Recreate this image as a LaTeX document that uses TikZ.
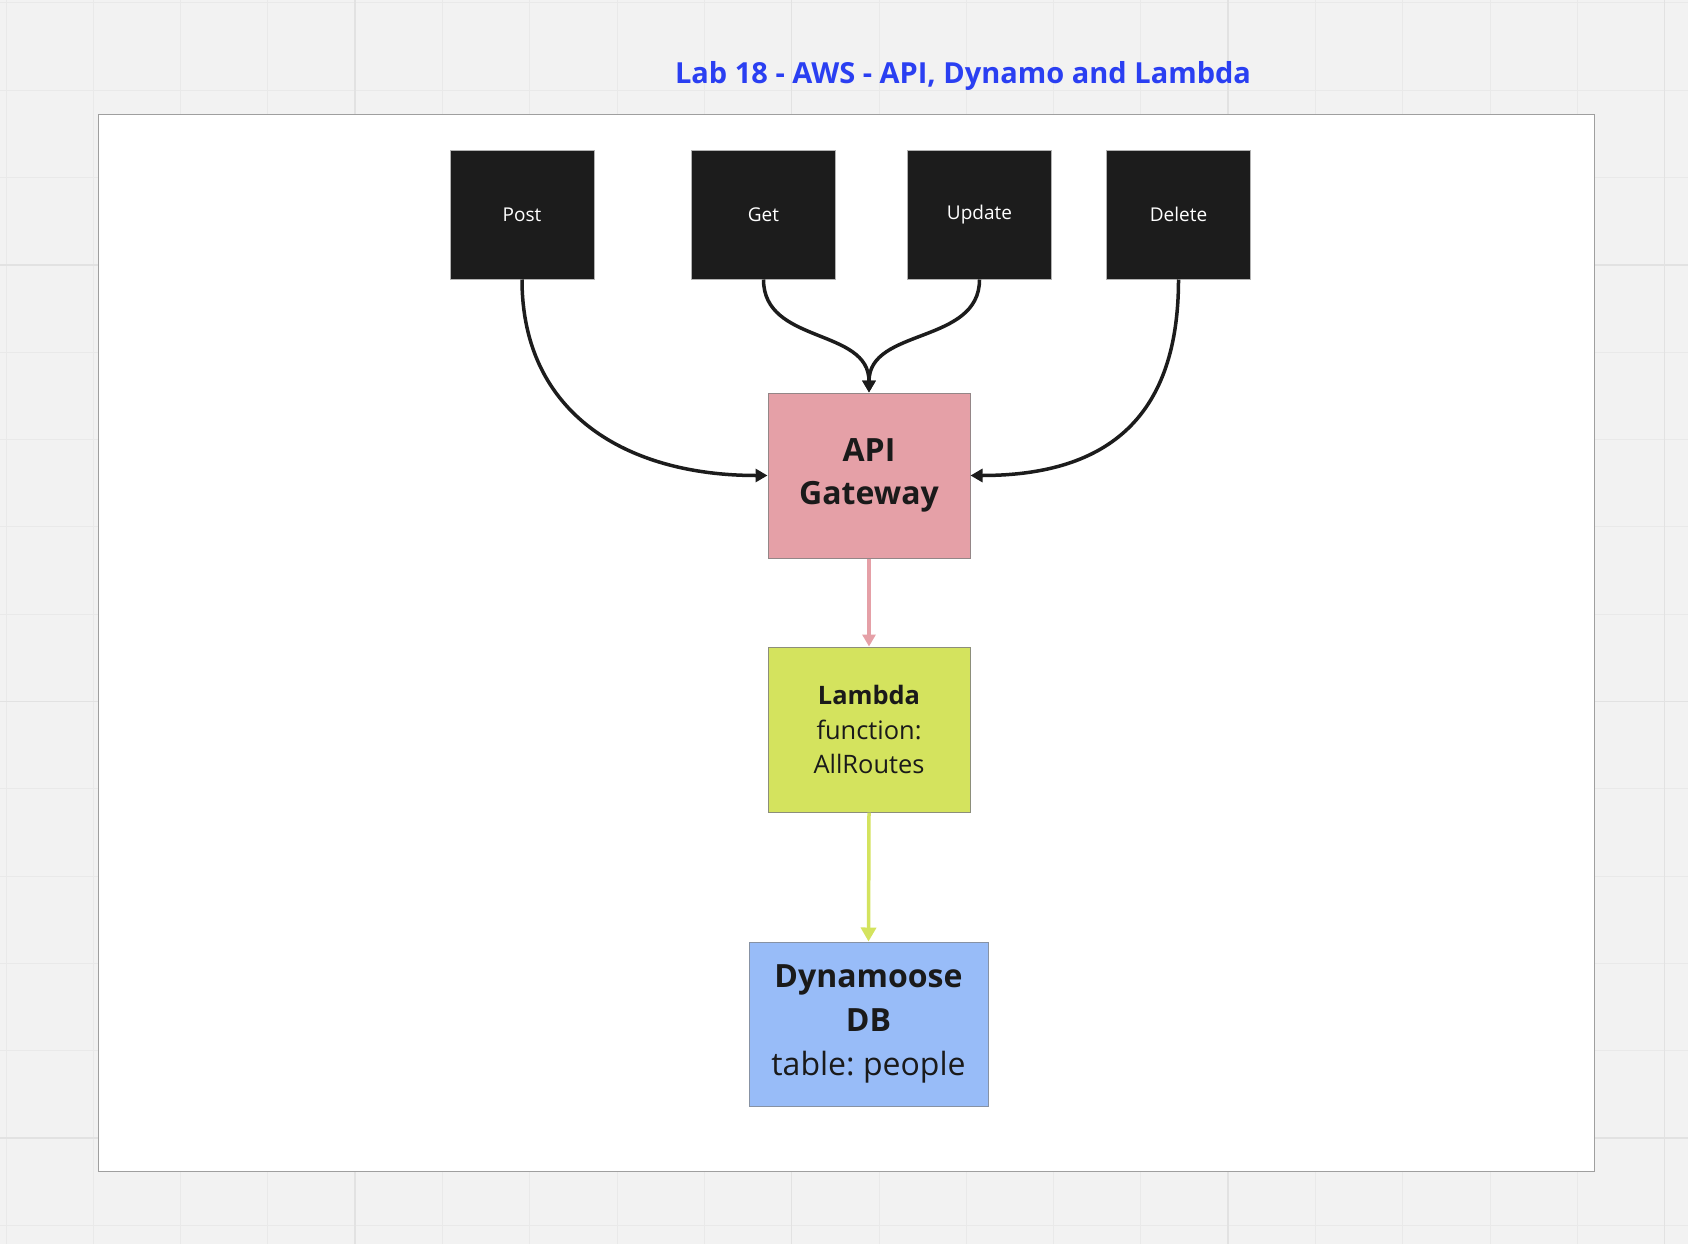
\documentclass[tikz,border=0pt]{standalone}
\usepackage{fontspec}
\setmainfont{Open Sans}
\usetikzlibrary{arrows.meta}
\definecolor{bgc}{HTML}{F2F2F2}
\definecolor{gridminor}{HTML}{E9E9E9}
\definecolor{gridmajor}{HTML}{E2E2E2}
\definecolor{titleblue}{HTML}{2A3FF2}
\definecolor{boxblack}{HTML}{1C1C1C}
\definecolor{apipink}{HTML}{E5A0A7}
\definecolor{lambdagreen}{HTML}{D4E35E}
\definecolor{dbblue}{HTML}{98BCF8}
\definecolor{inktext}{HTML}{1A1A1A}
\tikzset{
  methodbox/.style={draw=gray!60, line width=1pt, fill=boxblack, text=white,
    minimum width=144pt, minimum height=129pt, inner sep=0pt,
    font=\fontsize{19}{24}\selectfont},
  servicebox/.style={line width=1pt, inner sep=0pt, align=center, text=inktext},
  blackflow/.style={draw=boxblack, line width=3.5pt,
    -{Triangle[length=12pt,width=13pt]}},
  pinkflow/.style={draw=apipink, line width=3.5pt,
    -{Triangle[length=12pt,width=13pt]}},
  greenflow/.style={draw=lambdagreen, line width=3.5pt,
    -{Triangle[length=14pt,width=15pt]}},
}
\begin{document}
\begin{tikzpicture}[x=1pt,y=-1pt]
\useasboundingbox (0,0) rectangle (1688,1244);
\fill[bgc] (0,0) rectangle (1688,1244);
% background grid
\foreach \i in {0,...,19} {
  \draw[gridminor, line width=1pt] ({6+87.3*\i},0) -- ({6+87.3*\i},1244);
}
\foreach \i in {0,...,14} {
  \draw[gridminor, line width=1pt] (0,{3+87.3*\i}) -- (1688,{3+87.3*\i});
}
\foreach \i in {4,9,14,19} {
  \draw[gridmajor, line width=1.5pt] ({6+87.3*\i},0) -- ({6+87.3*\i},1244);
}
\foreach \i in {3,8,13} {
  \draw[gridmajor, line width=1.5pt] (0,{3+87.3*\i}) -- (1688,{3+87.3*\i});
}
% title
\node[anchor=base, text=titleblue, font=\fontsize{29}{36}\selectfont\bfseries] (title) at (963,84) {Lab 18 - AWS - API, Dynamo and Lambda};
% frame
\draw[fill=white, draw=gray!75, line width=1pt] (98,115) rectangle (1594,1171);
% method boxes
\node[methodbox] (post) at (522,214.5) {Post};
\node[methodbox] (get) at (763.5,214.5) {Get};
\node[methodbox] (update) at (979.5,214.5) {Update};
\node[methodbox] (delete) at (1178.5,214.5) {Delete};
% services
\node[servicebox, draw=gray!80!apipink, fill=apipink, minimum width=202pt, minimum height=165pt,
  font=\fontsize{32}{43}\selectfont\bfseries] (api) at (869,475.5) {API\\Gateway};
\node[servicebox, draw=gray!85!lambdagreen, fill=lambdagreen, minimum width=202pt, minimum height=165pt,
  font=\fontsize{25.4}{34.4}\selectfont] (lambda) at (869,729.5) {\textbf{Lambda}\\function:\\AllRoutes};
\node[servicebox, draw=gray!70!dbblue, fill=dbblue, minimum width=239pt, minimum height=164pt,
  font=\fontsize{32}{44}\selectfont] (dynamo) at (868.5,1024) {\textbf{Dynamoose}\\\textbf{DB}\\table:~people};
% connectors
\draw[blackflow] (post.south) .. controls +(0,135) and +(-140,0) .. (api.west);
\draw[blackflow] (get.south) .. controls +(0,65) and +(0,-65) .. (api.north);
\draw[blackflow] (update.south) .. controls +(0,65) and +(0,-65) .. (api.north);
\draw[blackflow] (delete.south) .. controls +(0,135) and +(140,0) .. (api.east);
\draw[pinkflow] (api.south) -- (lambda.north);
\draw[greenflow] (lambda.south) -- (dynamo.north);
\end{tikzpicture}
\end{document}
